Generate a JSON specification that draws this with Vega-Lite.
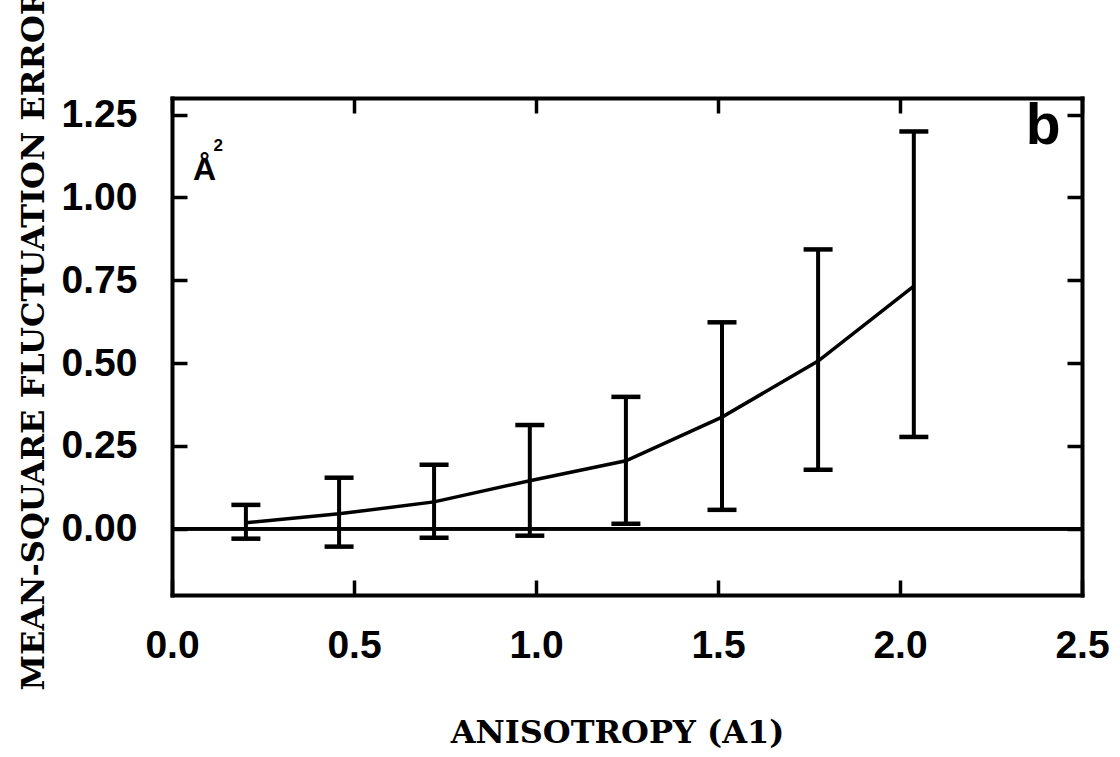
{
  "$schema": "https://vega.github.io/schema/vega-lite/v6.json",
  "width": 910,
  "height": 497,
  "autosize": "none",
  "padding": {"left": 172, "top": 98, "right": 38, "bottom": 162},
  "background": "white",
  "config": {
    "view": {"stroke": null},
    "axis": {"grid": false, "domainColor": "black", "tickColor": "black", "labelColor": "black", "titleColor": "black", "domainWidth": 4, "domainCap": "square", "tickWidth": 3.5, "tickSize": -15}
  },
  "datasets": {
    "pts": [
      {"a": 0.203, "m": 0.018, "lo": -0.030, "hi": 0.072},
      {"a": 0.459, "m": 0.045, "lo": -0.054, "hi": 0.154},
      {"a": 0.720, "m": 0.081, "lo": -0.027, "hi": 0.193},
      {"a": 0.983, "m": 0.145, "lo": -0.021, "hi": 0.313},
      {"a": 1.247, "m": 0.205, "lo": 0.015, "hi": 0.398},
      {"a": 1.511, "m": 0.337, "lo": 0.057, "hi": 0.623},
      {"a": 1.775, "m": 0.506, "lo": 0.178, "hi": 0.843},
      {"a": 2.038, "m": 0.732, "lo": 0.277, "hi": 1.199}
    ],
    "panel": [{"label": "b", "x": 2.393, "y": 1.16}],
    "unit": [{"label": "Å", "x": 0.058, "y": 1.054}],
    "sup": [{"label": "2", "x": 0.114, "y": 1.14}]
  },
  "resolve": {"axis": {"x": "independent", "y": "independent"}},
  "layer": [
    {
      "data": {"name": "pts"},
      "mark": {"type": "rule", "color": "black", "strokeWidth": 3},
      "encoding": {
        "y": {"datum": 0, "type": "quantitative", "scale": {"domain": [-0.2, 1.3], "nice": false, "zero": false}, "axis": null}
      }
    },
    {
      "data": {"name": "pts"},
      "mark": {"type": "line", "color": "black", "strokeWidth": 3.5},
      "encoding": {
        "x": {"field": "a", "type": "quantitative", "scale": {"domain": [0, 2.5], "nice": false, "zero": false},
          "axis": {"orient": "bottom", "values": [0, 0.5, 1, 1.5, 2, 2.5], "format": ".1f", "labelFont": "Liberation Sans", "labelFontWeight": "bold", "labelFontSize": 39, "labelPadding": 46, "labelFlush": false,
            "title": "ANISOTROPY (A1)", "titleFont": "DejaVu Serif", "titleFontWeight": "bold", "titleFontSize": 32, "titleX": 445, "titleY": 147, "titleAlign": "center", "titleBaseline": "alphabetic", "titleLimit": 2000}},
        "y": {"field": "m", "type": "quantitative", "scale": {"domain": [-0.2, 1.3], "nice": false, "zero": false},
          "axis": {"orient": "left", "values": [0, 0.25, 0.5, 0.75, 1, 1.25], "format": ".2f", "labelFont": "Liberation Sans", "labelFontWeight": "bold", "labelFontSize": 39, "labelPadding": 50, "labelFlush": false,
            "title": "MEAN-SQUARE FLUCTUATION ERROR", "titleFont": "DejaVu Serif", "titleFontWeight": "bold", "titleFontSize": 32, "titleX": -129, "titleY": 241, "titleAngle": -90, "titleAlign": "center", "titleBaseline": "alphabetic", "titleLimit": 2000}}
      }
    },
    {
      "data": {"name": "pts"},
      "mark": {"type": "rule", "color": "black", "strokeWidth": 4},
      "encoding": {
        "x": {"field": "a", "type": "quantitative", "scale": {"domain": [0, 2.5], "nice": false, "zero": false},
          "axis": {"orient": "top", "values": [0, 0.5, 1, 1.5, 2, 2.5], "labels": false, "title": null}},
        "y": {"field": "lo", "type": "quantitative", "scale": {"domain": [-0.2, 1.3], "nice": false, "zero": false},
          "axis": {"orient": "right", "values": [0, 0.25, 0.5, 0.75, 1, 1.25], "labels": false, "title": null}},
        "y2": {"field": "hi"}
      }
    },
    {
      "data": {"name": "pts"},
      "mark": {"type": "tick", "orient": "horizontal", "color": "black", "size": 29, "thickness": 4.5, "opacity": 1},
      "encoding": {
        "x": {"field": "a", "type": "quantitative", "axis": null},
        "y": {"field": "lo", "type": "quantitative", "axis": null}
      }
    },
    {
      "data": {"name": "pts"},
      "mark": {"type": "tick", "orient": "horizontal", "color": "black", "size": 29, "thickness": 4.5, "opacity": 1},
      "encoding": {
        "x": {"field": "a", "type": "quantitative", "axis": null},
        "y": {"field": "hi", "type": "quantitative", "axis": null}
      }
    },
    {
      "data": {"name": "panel"},
      "mark": {"type": "text", "font": "Liberation Sans", "fontWeight": "bold", "fontSize": 57, "align": "center", "baseline": "alphabetic", "color": "black"},
      "encoding": {
        "x": {"field": "x", "type": "quantitative", "axis": null},
        "y": {"field": "y", "type": "quantitative", "axis": null},
        "text": {"field": "label"}
      }
    },
    {
      "data": {"name": "unit"},
      "mark": {"type": "text", "font": "Liberation Sans", "fontWeight": "bold", "fontSize": 32, "align": "left", "baseline": "alphabetic", "color": "black"},
      "encoding": {
        "x": {"field": "x", "type": "quantitative", "axis": null},
        "y": {"field": "y", "type": "quantitative", "axis": null},
        "text": {"field": "label"}
      }
    },
    {
      "data": {"name": "sup"},
      "mark": {"type": "text", "font": "Liberation Sans", "fontWeight": "bold", "fontSize": 17, "align": "left", "baseline": "alphabetic", "color": "black"},
      "encoding": {
        "x": {"field": "x", "type": "quantitative", "axis": null},
        "y": {"field": "y", "type": "quantitative", "axis": null},
        "text": {"field": "label"}
      }
    }
  ]
}
